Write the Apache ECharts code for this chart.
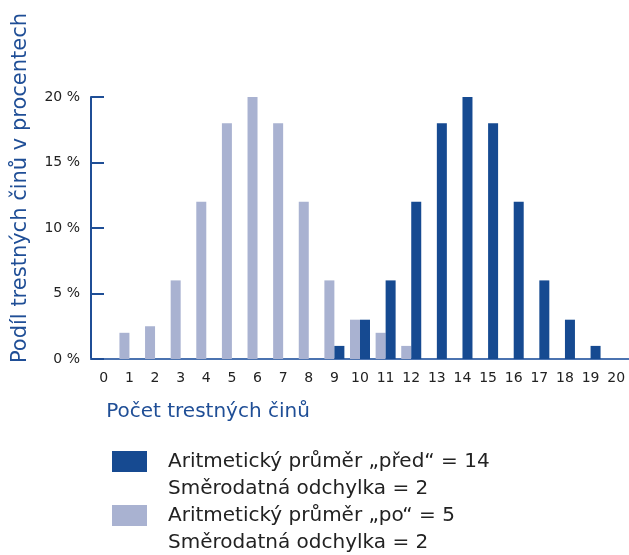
<!DOCTYPE html>
<html>
<head>
<meta charset="utf-8">
<script src="https://cdn.jsdelivr.net/npm/echarts@6/dist/echarts.min.js"></script>
<style>
  html, body { margin: 0; padding: 0; background: #fff; }
  #chart { width: 629px; height: 555px; }
</style>
</head>
<body>
<div id="chart"></div>
<script>
// pocet trestnych cinu 0..20
var categories = ['0', '1', '2', '3', '4', '5', '6', '7', '8', '9', '10',
  '11', '12', '13', '14', '15', '16', '17', '18', '19', '20'];
// podil v procentech, "po"
var poValues = [0, 2, 2.5, 6, 12, 18, 20, 18, 12, 6, 3, 2, 1, 0, 0, 0, 0, 0, 0, 0, 0];
// podil v procentech, "pred"
var predValues = [0, 0, 0, 0, 0, 0, 0, 0, 0, 1, 3, 6, 12, 18, 20, 18, 12, 6, 3, 1, 0];
var yTicks = [0, 5, 10, 15, 20];

var predName = 'Aritmetický průměr „před“ = 14\nSměrodatná odchylka = 2';
var poName = 'Aritmetický průměr „po“ = 5\nSměrodatná odchylka = 2';

var darkBlue = '#164a91';
var lightBlue = '#a9b2d1';
var axisBlue = '#1f4e96';
var font = 'DejaVu Sans';

// one legend per item, blank first line keeps the icon next to line 1
function makeLegend(name, top) {
  return {
    data: [name],
    orient: 'vertical',
    left: 112,
    top: top,
    padding: 0,
    itemWidth: 35,
    itemHeight: 21,
    itemGap: 0,
    icon: 'rect',
    formatter: function (n) {
      return ' \n' + n.split('\n').map(function (s) { return '{g|}' + s; }).join('\n');
    },
    textStyle: {
      fontFamily: font,
      fontSize: 20,
      color: '#222',
      lineHeight: 27,
      rich: {
        g: { width: 16, lineHeight: 27 }
      }
    },
    selectedMode: false
  };
}

var chart = echarts.init(document.getElementById('chart'));

var option = {
  animation: false,
  textStyle: { fontFamily: font },
  grid: {
    left: 91,
    right: 0,
    top: 97,
    bottom: 196
  },
  legend: [
    makeLegend(predName, 421),
    makeLegend(poName, 475)
  ],
  xAxis: {
    type: 'category',
    data: categories,
    name: 'Počet trestných činů',
    nameLocation: 'middle',
    nameGap: 43,
    nameTextStyle: {
      fontFamily: font,
      fontSize: 20,
      color: axisBlue,
      padding: [0, 304, 0, 0]
    },
    axisLine: { lineStyle: { color: '#4b73b0', width: 2 } },
    axisTick: {
      inside: true,
      length: 5,
      lineStyle: { color: axisBlue, width: 2 }
    },
    axisLabel: {
      color: '#222',
      fontSize: 14,
      margin: 12,
      interval: 0
    }
  },
  yAxis: {
    type: 'value',
    min: yTicks[0],
    max: yTicks[yTicks.length - 1],
    interval: 5,
    name: 'Podíl trestných činů v procentech',
    nameLocation: 'middle',
    nameGap: 60,
    nameTextStyle: {
      fontFamily: font,
      fontSize: 21,
      color: axisBlue,
      padding: [0, 0, 0, 80]
    },
    axisLine: { show: true, lineStyle: { color: axisBlue, width: 2 } },
    axisTick: {
      show: true,
      inside: true,
      length: 13,
      lineStyle: { color: axisBlue, width: 2 }
    },
    splitLine: { show: false },
    axisLabel: {
      color: '#222',
      fontSize: 14,
      margin: 11,
      formatter: '{value} %'
    }
  },
  series: [
    {
      name: poName,
      type: 'bar',
      data: poValues,
      barWidth: 10,
      barGap: 0,
      itemStyle: { color: lightBlue }
    },
    {
      name: predName,
      type: 'bar',
      data: predValues,
      barWidth: 10,
      barGap: 0,
      itemStyle: { color: darkBlue }
    }
  ]
};

chart.setOption(option);
</script>
</body>
</html>
